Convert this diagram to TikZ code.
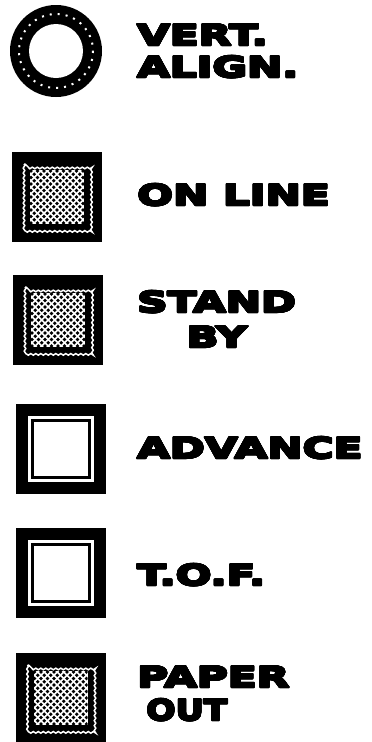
\documentclass[tikz,border=0pt]{standalone}
\usepackage{fontspec}
\usepackage{tikz}
\usepackage{contour}
\usetikzlibrary{decorations.pathmorphing}
\newfontfamily\panelfont[FakeStretch=1.48,FakeBold=3]{DejaVu Sans Bold}
\contourlength{0.7pt}
\contournumber{16}

\begin{document}
\begin{tikzpicture}[x=1pt,y=-1pt,
  lbl/.style={font=\panelfont\fontsize{28.5}{28.5}\selectfont,anchor=base west,inner sep=0pt},
  lampbox/.style={rectangle,fill=black,minimum size=90pt,inner sep=0pt},
  lampring/.style={circle,fill=black,minimum size=92pt,inner sep=0pt},
  wavy/.style={draw=white,line width=1.5pt,decorate,
    decoration={snake,segment length=5pt,amplitude=0.8pt}},
]
\useasboundingbox (0,0) rectangle (372,742);

% dotted screen inside a lit lamp
\def\stippled#1{%
  \begin{scope}[shift={(#1)}]
    \draw[wavy] (-33,-33) rectangle (33,33);
    \fill[white] (-27,-27) rectangle (27,27);
    \begin{scope}
      \clip (-27,-27) rectangle (27,27);
      \foreach \r in {0,...,17} {
        \pgfmathsetmacro\off{mod(\r,2)*3.25}
        \foreach \c in {0,...,9}
          \fill (-26+\off+6.5*\c,-26+3.25*\r) circle (1.8);
      }
    \end{scope}
  \end{scope}}
% plain window of an unlit lamp
\def\clearwin#1{%
  \begin{scope}[shift={(#1)}]
    \fill[white] (-33,-33) rectangle (33,33);
    \fill[black] (-30,-30) rectangle (30,30);
    \fill[white] (-27,-27) rectangle (27,27);
  \end{scope}}

\node[lampring] (vert) at (56,51) {};
\draw[white,line width=2pt,dash pattern=on 2pt off 6pt] (vert.center) circle (37);
\fill[white] (vert.center) circle (27);
\node[lbl] (lvert) at (137,45) {\contour{black}{VERT.}};
\node[lbl] (lalign) at (137,77) {\contour{black}{ALIGN.}};

\node[lampbox] (online) at (57,197) {};
\stippled{online.center}
\node[lbl] (lonline) at (137,205) {\contour{black}{ON LINE}};

\node[lampbox] (standby) at (58,320) {};
\stippled{standby.center}
\node[lbl] (lstand) at (137,312) {\contour{black}{STAND}};
\node[lbl,anchor=base] (lby) at (lstand.base |- 0,347) {\contour{black}{BY}};

\node[lampbox] (advance) at (60.5,449) {};
\clearwin{advance.center}
\node[lbl] (ladvance) at (137,458) {\contour{black}{ADVANCE}};

\node[lampbox] (tof) at (60.5,573) {};
\clearwin{tof.center}
\node[lbl] (ltof) at (137,585) {\contour{black}{T.O.F.}};

\node[lampbox] (paperout) at (60.5,698) {};
\stippled{paperout.center}
\node[lbl] (lpaper) at (137,687) {\contour{black}{PAPER}};
\node[lbl] (lout) at (146,720) {\scalebox{0.82}[1]{\contour{black}{OUT}}};

\end{tikzpicture}
\end{document}
